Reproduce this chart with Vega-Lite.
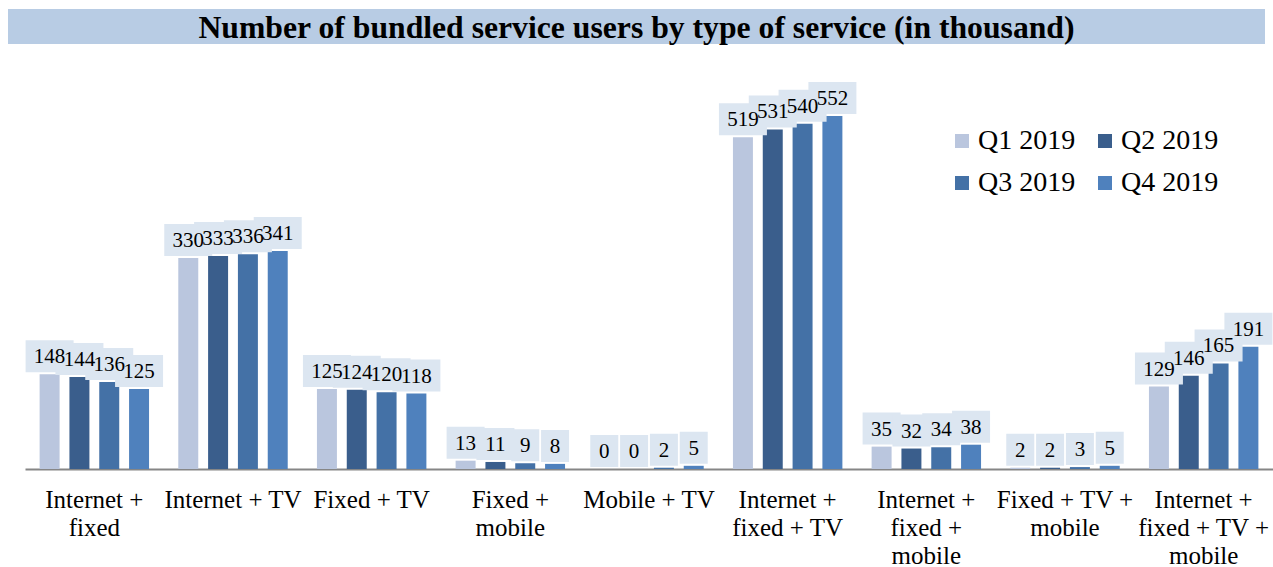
{
  "$schema": "https://vega.github.io/schema/vega-lite/v6.json",
  "padding": {"left": 8, "top": 9, "right": 0, "bottom": 0},
  "spacing": 9,
  "config": {"font": "Liberation Serif", "view": {"stroke": null}},
  "datasets": {
    "bundles": [
      {"group": "Internet + fixed", "quarter": "Q1 2019", "value": 148},
      {"group": "Internet + fixed", "quarter": "Q2 2019", "value": 144},
      {"group": "Internet + fixed", "quarter": "Q3 2019", "value": 136},
      {"group": "Internet + fixed", "quarter": "Q4 2019", "value": 125},
      {"group": "Internet + TV", "quarter": "Q1 2019", "value": 330},
      {"group": "Internet + TV", "quarter": "Q2 2019", "value": 333},
      {"group": "Internet + TV", "quarter": "Q3 2019", "value": 336},
      {"group": "Internet + TV", "quarter": "Q4 2019", "value": 341},
      {"group": "Fixed + TV", "quarter": "Q1 2019", "value": 125},
      {"group": "Fixed + TV", "quarter": "Q2 2019", "value": 124},
      {"group": "Fixed + TV", "quarter": "Q3 2019", "value": 120},
      {"group": "Fixed + TV", "quarter": "Q4 2019", "value": 118},
      {"group": "Fixed + mobile", "quarter": "Q1 2019", "value": 13},
      {"group": "Fixed + mobile", "quarter": "Q2 2019", "value": 11},
      {"group": "Fixed + mobile", "quarter": "Q3 2019", "value": 9},
      {"group": "Fixed + mobile", "quarter": "Q4 2019", "value": 8},
      {"group": "Mobile + TV", "quarter": "Q1 2019", "value": 0},
      {"group": "Mobile + TV", "quarter": "Q2 2019", "value": 0},
      {"group": "Mobile + TV", "quarter": "Q3 2019", "value": 2},
      {"group": "Mobile + TV", "quarter": "Q4 2019", "value": 5},
      {"group": "Internet + fixed + TV", "quarter": "Q1 2019", "value": 519},
      {"group": "Internet + fixed + TV", "quarter": "Q2 2019", "value": 531},
      {"group": "Internet + fixed + TV", "quarter": "Q3 2019", "value": 540},
      {"group": "Internet + fixed + TV", "quarter": "Q4 2019", "value": 552},
      {"group": "Internet + fixed + mobile", "quarter": "Q1 2019", "value": 35},
      {"group": "Internet + fixed + mobile", "quarter": "Q2 2019", "value": 32},
      {"group": "Internet + fixed + mobile", "quarter": "Q3 2019", "value": 34},
      {"group": "Internet + fixed + mobile", "quarter": "Q4 2019", "value": 38},
      {"group": "Fixed + TV + mobile", "quarter": "Q1 2019", "value": 2},
      {"group": "Fixed + TV + mobile", "quarter": "Q2 2019", "value": 2},
      {"group": "Fixed + TV + mobile", "quarter": "Q3 2019", "value": 3},
      {"group": "Fixed + TV + mobile", "quarter": "Q4 2019", "value": 5},
      {"group": "Internet + fixed + TV + mobile", "quarter": "Q1 2019", "value": 129},
      {"group": "Internet + fixed + TV + mobile", "quarter": "Q2 2019", "value": 146},
      {"group": "Internet + fixed + TV + mobile", "quarter": "Q3 2019", "value": 165},
      {"group": "Internet + fixed + TV + mobile", "quarter": "Q4 2019", "value": 191}
    ]
  },
  "vconcat": [
    {
      "width": 1257,
      "height": 35,
      "view": {"fill": "#b8cce4", "stroke": null},
      "data": {"values": [{"title": "Number of bundled service users by type of service (in thousand)"}]},
      "mark": {"type": "text", "font": "Liberation Serif", "fontWeight": "bold", "fontSize": 31.7, "color": "#000000", "baseline": "middle", "align": "center", "dy": 1},
      "encoding": {"text": {"field": "title"}}
    },
    {
      "width": 1265,
      "height": 415,
      "data": {"name": "bundles"},
      "encoding": {
        "x": {
          "field": "group", "type": "nominal", "sort": null,
          "scale": {"paddingInner": 0, "paddingOuter": 0, "range": [17, 1265]},
          "axis": {
            "title": null, "ticks": false, "grid": false, "labelAngle": 0,
            "domainColor": "#868686", "domainWidth": 2,
            "labelFont": "Liberation Serif", "labelFontSize": 25, "labelColor": "#000000",
            "labelPadding": 18, "labelLineHeight": 28, "labelBaseline": "top",
            "labelOverlap": false, "labelLimit": 0, "labelBound": false,
            "labelExpr": "datum.label == 'Internet + fixed' ? ['Internet +', 'fixed'] : datum.label == 'Fixed + mobile' ? ['Fixed +', 'mobile'] : datum.label == 'Internet + fixed + TV' ? ['Internet +', 'fixed + TV'] : datum.label == 'Internet + fixed + mobile' ? ['Internet +', 'fixed +', 'mobile'] : datum.label == 'Fixed + TV + mobile' ? ['Fixed + TV +', 'mobile'] : datum.label == 'Internet + fixed + TV + mobile' ? ['Internet +', 'fixed + TV +', 'mobile'] : datum.label"
          }
        },
        "xOffset": {"field": "quarter", "type": "nominal", "scale": {"paddingInner": 0.33, "paddingOuter": 0.49}},
        "y": {
          "field": "value", "type": "quantitative",
          "scale": {"domain": [0, 649], "nice": false},
          "axis": null
        }
      },
      "layer": [
        {
          "mark": {"type": "bar"},
          "encoding": {
            "color": {
              "field": "quarter", "type": "nominal",
              "scale": {"domain": ["Q1 2019", "Q2 2019", "Q3 2019", "Q4 2019"], "range": ["#bac6de", "#3a5e8c", "#4471a6", "#4f81bd"]},
              "legend": {
                "title": null, "orient": "none", "legendX": 940, "legendY": 118,
                "direction": "horizontal",
                "columns": 2, "columnPadding": 15, "rowPadding": 14, "padding": 0,
                "symbolType": "square", "symbolSize": 196, "symbolStrokeWidth": 0,
                "labelFont": "Liberation Serif", "labelFontSize": 28, "labelColor": "#000000",
                "labelOffset": 2
              }
            }
          }
        },
        {
          "mark": {"type": "point", "filled": true, "fill": "#dce6f1", "opacity": 1, "strokeWidth": 0, "size": 4},
          "encoding": {
            "shape": {
              "condition": [
                {"test": "datum.value < 10", "value": "M-14,-34H14V-2H-14Z"},
                {"test": "datum.value < 100", "value": "M-19,-34H19V-2H-19Z"}
              ],
              "value": "M-24,-34H24V-2H-24Z"
            }
          }
        },
        {
          "mark": {"type": "text", "font": "Liberation Serif", "fontSize": 21, "color": "#000000", "baseline": "middle", "align": "center", "dy": -17},
          "encoding": {"text": {"field": "value", "type": "quantitative"}}
        }
      ]
    }
  ]
}
